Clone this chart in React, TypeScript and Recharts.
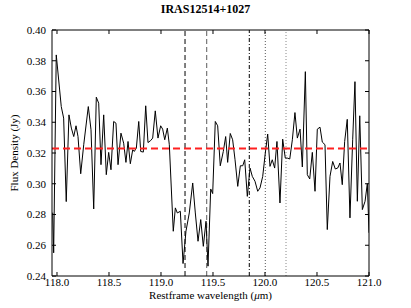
import React from 'react';
import { LineChart, Line, XAxis, YAxis, ReferenceLine } from 'recharts';

const wavelength = [
  117.959, 117.968, 117.993, 118.041, 118.064, 118.089, 118.115, 118.138, 118.161, 118.183,
  118.202, 118.228, 118.257, 118.301, 118.327, 118.353, 118.378, 118.401, 118.423, 118.449,
  118.474, 118.497, 118.519, 118.545, 118.567, 118.587, 118.615, 118.641, 118.663, 118.683,
  118.705, 118.728, 118.743, 118.763, 118.786, 118.805, 118.830, 118.853, 118.875, 118.901,
  118.920, 118.945, 118.971, 118.997, 119.016, 119.036, 119.061, 119.080, 119.118, 119.138,
  119.157, 119.186, 119.212, 119.240, 119.272, 119.305, 119.330, 119.356, 119.382, 119.407,
  119.433, 119.452, 119.478, 119.497, 119.522, 119.545, 119.570, 119.599, 119.622, 119.641,
  119.666, 119.689, 119.712, 119.738, 119.763, 119.786, 119.805, 119.830, 119.856, 119.878,
  119.904, 119.930, 119.952, 119.978, 120.003, 120.026, 120.048, 120.070, 120.093, 120.115,
  120.144, 120.170, 120.195, 120.214, 120.238, 120.263, 120.288, 120.311, 120.337, 120.359,
  120.388, 120.407, 120.430, 120.455, 120.481, 120.503, 120.529, 120.551, 120.577, 120.599,
  120.625, 120.651, 120.676, 120.699, 120.721, 120.743, 120.766, 120.791, 120.817, 120.843,
  120.865, 120.888, 120.911, 120.936, 120.962, 120.984, 121.0,
];

const flux = [
  0.2812, 0.2551, 0.3838, 0.3502, 0.3427, 0.2884, 0.3448, 0.3362, 0.3307, 0.3377,
  0.3307, 0.3065, 0.3254, 0.3502, 0.3351, 0.2836, 0.3563, 0.3524, 0.3124, 0.3448,
  0.3059, 0.3204, 0.3091, 0.3405, 0.3394, 0.3124, 0.3329, 0.3264, 0.3139, 0.3275,
  0.3130, 0.3221, 0.3210, 0.3232, 0.3405, 0.3210, 0.3206, 0.3507, 0.3268, 0.3281,
  0.3297, 0.3474, 0.3297, 0.3377, 0.3355, 0.3286, 0.3362, 0.3254, 0.2691, 0.2843,
  0.2810, 0.2821, 0.2481, 0.2691, 0.2810, 0.3005, 0.2810, 0.2626, 0.2767, 0.2593,
  0.2756, 0.2464, 0.2966, 0.2936, 0.3405, 0.3377, 0.3117, 0.3210, 0.3307, 0.3139,
  0.3327, 0.3286, 0.3156, 0.2983, 0.3117, 0.3117, 0.3156, 0.2918, 0.3102, 0.3048,
  0.3016, 0.2951, 0.2973, 0.3048, 0.3200, 0.3323, 0.3113, 0.3156, 0.3102, 0.3275,
  0.2875, 0.3290, 0.3167, 0.3167, 0.3161, 0.3286, 0.3463, 0.3297, 0.3355, 0.3109,
  0.3729, 0.3059, 0.3031, 0.3204, 0.2951, 0.3355, 0.3368, 0.3271, 0.3254, 0.2702,
  0.3048, 0.3145, 0.3096, 0.3102, 0.3135, 0.2994, 0.3275, 0.3419, 0.2778, 0.3286,
  0.3664, 0.2886, 0.3442, 0.2832, 0.2886, 0.3001, 0.2681,
];

const xTicks = [118.0, 118.5, 119.0, 119.5, 120.0, 120.5, 121.0];
const yTicks = [0.24, 0.26, 0.28, 0.3, 0.32, 0.34, 0.36, 0.38, 0.4];

const continuumLevel = 0.323;
const lineMarkers = [119.231, 119.439, 119.849, 120.003, 120.202];

const data = wavelength.map((w, i) => ({ w, f: flux[i] }));

const FONT = '"Liberation Serif", "DejaVu Serif", serif';
const tickStyle = { fontSize: 11, fill: '#000', fontFamily: FONT };

export default function App() {
  return (
    <div style={{ position: 'absolute', left: 0, top: 0, width: 411, height: 308, background: '#fff' }}>
      <LineChart width={411} height={308} data={data} margin={{ top: 29, right: 41, bottom: 0, left: 0 }}>
        <XAxis
          dataKey="w"
          type="number"
          domain={[117.952, 121.0]}
          ticks={xTicks}
          allowDataOverflow
          height={32}
          tickSize={-4}
          tickMargin={6}
          tickFormatter={(v: number) => v.toFixed(1)}
          tick={tickStyle}
          stroke="#000"
          axisLine={{ stroke: '#000' }}
          tickLine={{ stroke: '#000' }}
        />
        <XAxis
          xAxisId="top"
          orientation="top"
          dataKey="w"
          type="number"
          domain={[117.952, 121.0]}
          ticks={xTicks}
          allowDataOverflow
          height={1}
          tickSize={-4}
          tickFormatter={() => ''}
          stroke="#000"
          axisLine={{ stroke: '#000' }}
          tickLine={{ stroke: '#000' }}
        />
        <YAxis
          type="number"
          domain={[0.24, 0.4]}
          ticks={yTicks}
          allowDataOverflow
          width={52}
          tickSize={-4}
          tickMargin={10}
          tickFormatter={(v: number) => v.toFixed(2)}
          tick={tickStyle}
          stroke="#000"
          axisLine={{ stroke: '#000' }}
          tickLine={{ stroke: '#000' }}
        />
        <YAxis
          yAxisId="right"
          orientation="right"
          type="number"
          domain={[0.24, 0.4]}
          ticks={yTicks}
          allowDataOverflow
          width={1}
          tickSize={-4}
          tickFormatter={() => ''}
          stroke="#000"
          axisLine={{ stroke: '#000' }}
          tickLine={{ stroke: '#000' }}
        />
        <ReferenceLine x={lineMarkers[0]} stroke="#000" strokeWidth={1} strokeDasharray="5 3" />
        <ReferenceLine x={lineMarkers[1]} stroke="#777" strokeWidth={1.2} strokeDasharray="5 3" />
        <ReferenceLine x={lineMarkers[2]} stroke="#000" strokeWidth={1} strokeDasharray="4 2 1 2" />
        <ReferenceLine x={lineMarkers[3]} stroke="#555" strokeWidth={1} strokeDasharray="1 2" />
        <ReferenceLine x={lineMarkers[4]} stroke="#888" strokeWidth={1} strokeDasharray="1 2" />
        <Line
          dataKey="f"
          stroke="#000"
          strokeWidth={1}
          dot={false}
          isAnimationActive={false}
          type="linear"
        />
        <ReferenceLine y={continuumLevel} stroke="#ff2020" strokeWidth={2} strokeDasharray="7 4" />
      </LineChart>
      <div
        style={{
          position: 'absolute', left: 0, top: 2, width: 411, textAlign: 'center',
          fontFamily: FONT, fontWeight: 'bold', fontSize: 12, color: '#000',
        }}
      >
        IRAS12514+1027
      </div>
      <div
        style={{
          position: 'absolute', left: 52, top: 289, width: 317, textAlign: 'center',
          fontFamily: FONT, fontSize: 11, lineHeight: '13px', color: '#000',
        }}
      >
        Restframe wavelength (<i>μ</i>m)
      </div>
      <div
        style={{
          position: 'absolute', left: 14, top: 153, width: 0, height: 0,
        }}
      >
        <div
          style={{
            position: 'absolute', left: 0, top: 0, transform: 'translate(-50%, -50%) rotate(-90deg)',
            whiteSpace: 'nowrap', fontFamily: FONT, fontSize: 11, lineHeight: '13px', color: '#000',
          }}
        >
          Flux Density (Jy)
        </div>
      </div>
    </div>
  );
}
